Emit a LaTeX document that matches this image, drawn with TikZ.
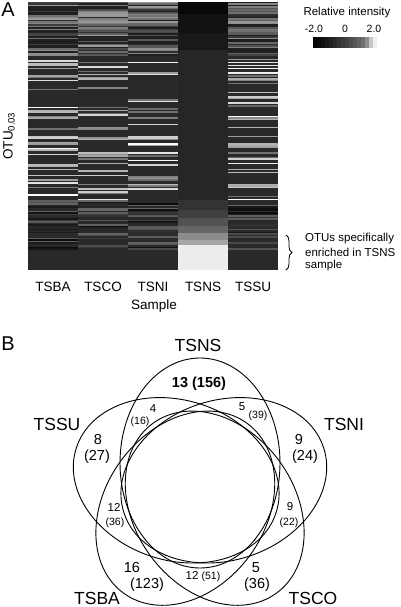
\documentclass[tikz,border=0pt]{standalone}
\usepackage{fontspec}
\setmainfont{Liberation Sans}
\usetikzlibrary{decorations.pathreplacing}
\tikzset{
  panel/.style={font=\fontsize{20}{24}\selectfont},
  lbl/.style={font=\fontsize{13.5}{16}\selectfont},
  note/.style={font=\fontsize{11.5}{13.5}\selectfont, align=left},
  setlbl/.style={font=\fontsize{17.5}{20}\selectfont},
  big/.style={font=\fontsize{14.5}{17}\selectfont},
  mid/.style={font=\fontsize{11.5}{13}\selectfont},
  small/.style={font=\fontsize{10.5}{12}\selectfont},
  venn/.style={line width=0.9pt},
}
\begin{document}
\begin{tikzpicture}[x=1pt,y=-1pt]
\useasboundingbox (0,0) rectangle (400,607);
% panel A: heat map
\pgfmathsetseed{3}
\fill[black!84] (28,2) rectangle (278,270);
\foreach \c/\p in {0/0.3,1/0.3,2/0.18,4/0.3}{
  \foreach \i in {0,...,164}{
    \pgfmathsetmacro\yy{2+1.5*\i}
    \pgfmathsetmacro\g{\i<36 ? (rnd<0.75 ? 0.12+0.5*rnd : 0.12) : (\i<132 ? (rnd<\p ? 0.4+0.6*rnd : 0.16) : (rnd<0.6 ? 0.04+0.38*rnd : 0.16))}
    \definecolor{cell}{gray}{\g}
    \fill[cell] (28+50*\c,\yy) rectangle ++(50,1.5);
  }
}
% TSNS column
\foreach \ya/\yb/\k in {2/14/97,14/33/93,33/50/90,50/200/85,200/210/80,210/218/75,218/226/68,226/233/60,233/240/45,240/245/35,245/270/7}
  \fill[black!\k] (178,\ya) rectangle (228,\yb);
\node[panel] (pa) at (8,10) {A};
\node[lbl, rotate=90] (otu) at (9,136) {OTU\textsubscript{0.03}};
\node[lbl] (sba) at (53,287) {TSBA};
\node[lbl] (sco) at (103,287) {TSCO};
\node[lbl] (sni) at (153,287) {TSNI};
\node[lbl] (sns) at (203,287) {TSNS};
\node[lbl] (ssu) at (253,287) {TSSU};
\node[lbl] (sample) at (154,306) {Sample};
% legend
\node[note] (rel) at (347,13) {Relative intensity};
\node[small] (lo) at (314,29) {-2.0};
\node[small] (zero) at (345,29) {0};
\node[small] (hi) at (374,29) {2.0};
\foreach \k [count=\n] in {98,96,93,90,87,84,80,77,74,70,66,62,56,45,22,6}
  \fill[black!\k] (309+4*\n,37) rectangle ++(4,11);
\coordinate (bt) at (286,235);
\coordinate (bb) at (286,270);
\draw[decorate, decoration={brace, amplitude=6pt}, line width=0.8pt] (bt) -- (bb);
\node[note, anchor=west, inner sep=0pt] (otus) at (305,239) {OTUs specifically};
\node[note, anchor=west, inner sep=0pt] (enr) at (305,252.5) {enriched in TSNS};
\node[note, anchor=west, inner sep=0pt] (smp) at (305,266) {sample};
% panel B: Venn diagram
\node[panel] (pb) at (8,344) {B};
\draw[venn, rotate around={90:(200,463)}] (200,463) ellipse [x radius=105pt, y radius=80pt];
\draw[venn, rotate around={18:(223.8,480.3)}] (223.8,480.3) ellipse [x radius=105pt, y radius=80pt];
\draw[venn, rotate around={-54:(214.7,508.2)}] (214.7,508.2) ellipse [x radius=105pt, y radius=80pt];
\draw[venn, rotate around={54:(185.3,508.2)}] (185.3,508.2) ellipse [x radius=105pt, y radius=80pt];
\draw[venn, rotate around={-18:(176.2,480.3)}] (176.2,480.3) ellipse [x radius=105pt, y radius=80pt];
\node[setlbl] (tsns) at (198,345) {TSNS};
\node[setlbl] (tsni) at (344,424) {TSNI};
\node[setlbl] (tsco) at (313,598) {TSCO};
\node[setlbl] (tsba) at (97,598) {TSBA};
\node[setlbl] (tssu) at (57,424) {TSSU};
\node[big] (nsonly) at (199,384) {\textbf{13 (156)}};
\node[big] (suonly) at (98,440) {8};
\node[big] (suall) at (97,457) {(27)};
\node[big] (nionly) at (299,440) {9};
\node[big] (niall) at (305,457) {(24)};
\node[big] (baonly) at (132,568) {16};
\node[big] (baall) at (147,585) {(123)};
\node[big] (coonly) at (256,568) {5};
\node[big] (coall) at (257,585) {(36)};
\node[mid] (nssu) at (153,409) {4};
\node[small] (nssuall) at (140,422) {(16)};
\node[mid] (nsni) at (242,407) {5};
\node[small] (nsniall) at (258,416) {(39)};
\node[mid] (suba) at (114,507) {12};
\node[small] (subaall) at (115,523) {(36)};
\node[mid] (nico) at (290,507) {9};
\node[small] (nicoall) at (289,523) {(22)};
\node[mid] (baco) at (203,577) {12 {\fontsize{10.5}{12}\selectfont(51)}};
\end{tikzpicture}
\end{document}
